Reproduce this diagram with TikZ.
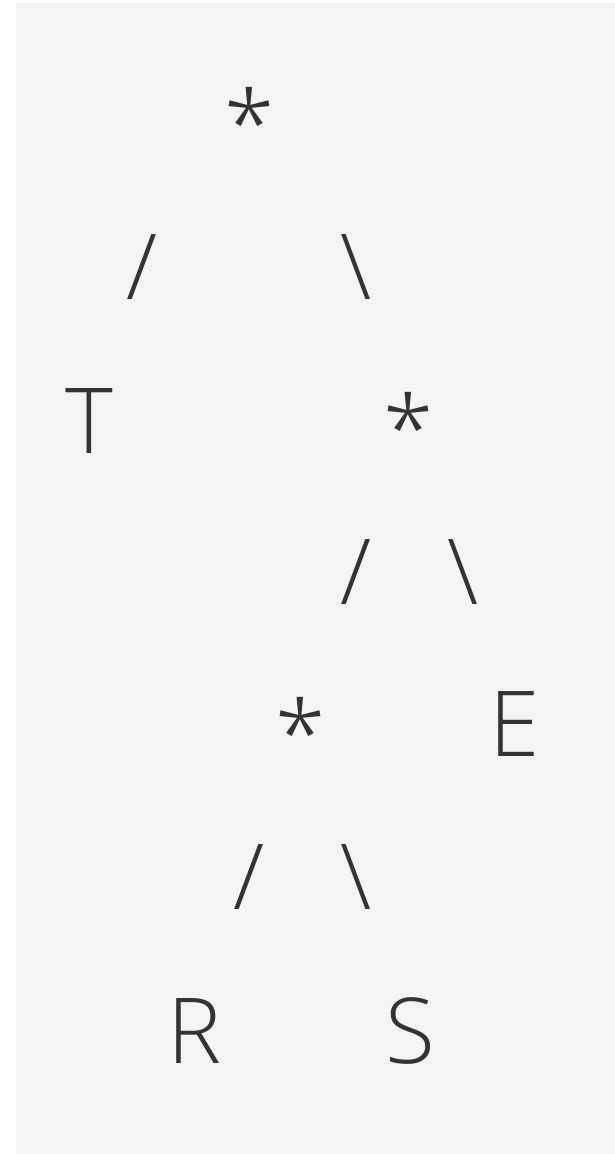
\documentclass[tikz,border=0pt]{standalone}
\usepackage{fontspec}
\setmainfont{Open Sans Light}
\definecolor{bgc}{HTML}{F4F4F4}
\definecolor{inkc}{HTML}{333333}
\begin{document}
\begin{tikzpicture}[x=1pt,y=-1pt,
  glyph/.style={inner sep=0pt,outer sep=0pt,anchor=center,text=inkc,
    font=\fontsize{91}{100}\selectfont}]
\useasboundingbox (0,0) rectangle (615,1154);
\fill[bgc] (16,3) rectangle (615,1154);
% row 1
\node[glyph] (m1) at (250,122) {*};
% row 2
\node[glyph] (l1) at (142,267) {/};
\node[glyph] (r1) at (356,267) {\textbackslash};
% row 3
\node[glyph] (t) at (89,421) {T};
\node[glyph] (m2) at (409,427) {*};
% row 4
\node[glyph] (l2) at (356,572) {/};
\node[glyph] (r2) at (463,572) {\textbackslash};
% row 5
\node[glyph] (m3) at (301,732) {*};
\node[glyph] (e) at (515,724) {E};
% row 6
\node[glyph] (l3) at (249,877) {/};
\node[glyph] (r3) at (356,877) {\textbackslash};
% row 7
\node[glyph] (rr) at (195,1031) {R};
\node[glyph] (s) at (410,1031) {S};
\end{tikzpicture}
\end{document}
